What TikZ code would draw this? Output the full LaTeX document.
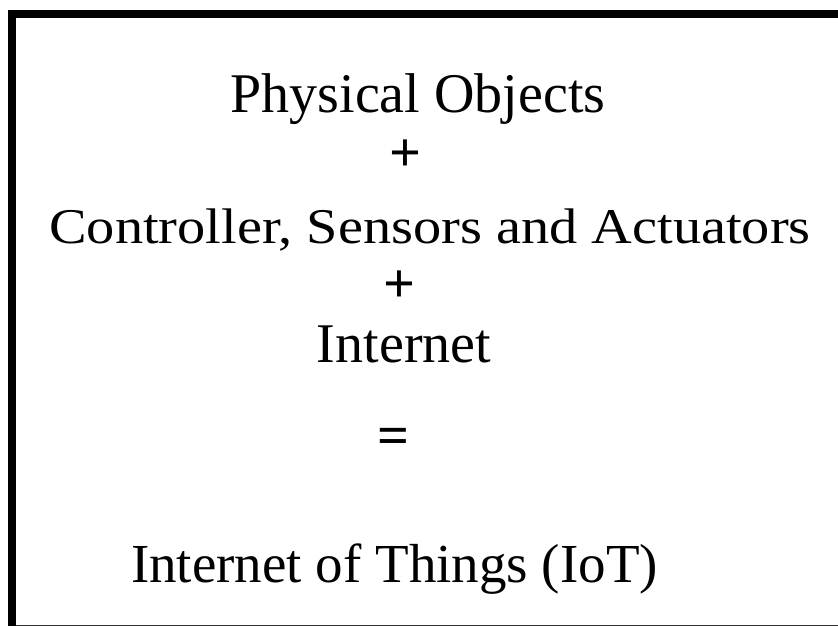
\documentclass[tikz,border=0pt]{standalone}
\usepackage{fontspec}
\setmainfont{Liberation Serif}
\begin{document}
\begin{tikzpicture}[x=1pt,y=-1pt,
  line/.style={anchor=base,inner sep=0pt,font=\fontsize{56}{60}\selectfont},
  op/.style={anchor=base,inner sep=0pt,font=\fontsize{56}{60}\selectfont\bfseries}]
  % page area
  \fill[white] (0,0) rectangle (838,626);
  \useasboundingbox (0,0) rectangle (838,626);
  % frame: heavy left and top edges, thin bottom edge
  \fill[black] (8,10.5) rectangle (16,626);
  \fill[black] (8,10.5) rectangle (838,18.5);
  \fill[black!80] (16,624.5) rectangle (838,626);
  % the equation, one term per line
  \node[line] (phys) at (418,112) {Physical Objects};
  \node[op] (plusA) at (405,171) {+};
  \node[line,font=\fontsize{50}{54}\selectfont,xscale=1.127] (ctrl) at (430,243) {Controller, Sensors and Actuators};
  \node[op] (plusB) at (399,302) {+};
  \node[line] (net) at (404,362) {Internet};
  \node[op] (eq) at (393,454) {=};
  \node[line,font=\fontsize{55}{59}\selectfont] (iot) at (394.5,582) {Internet of Things (IoT)};
\end{tikzpicture}
\end{document}
